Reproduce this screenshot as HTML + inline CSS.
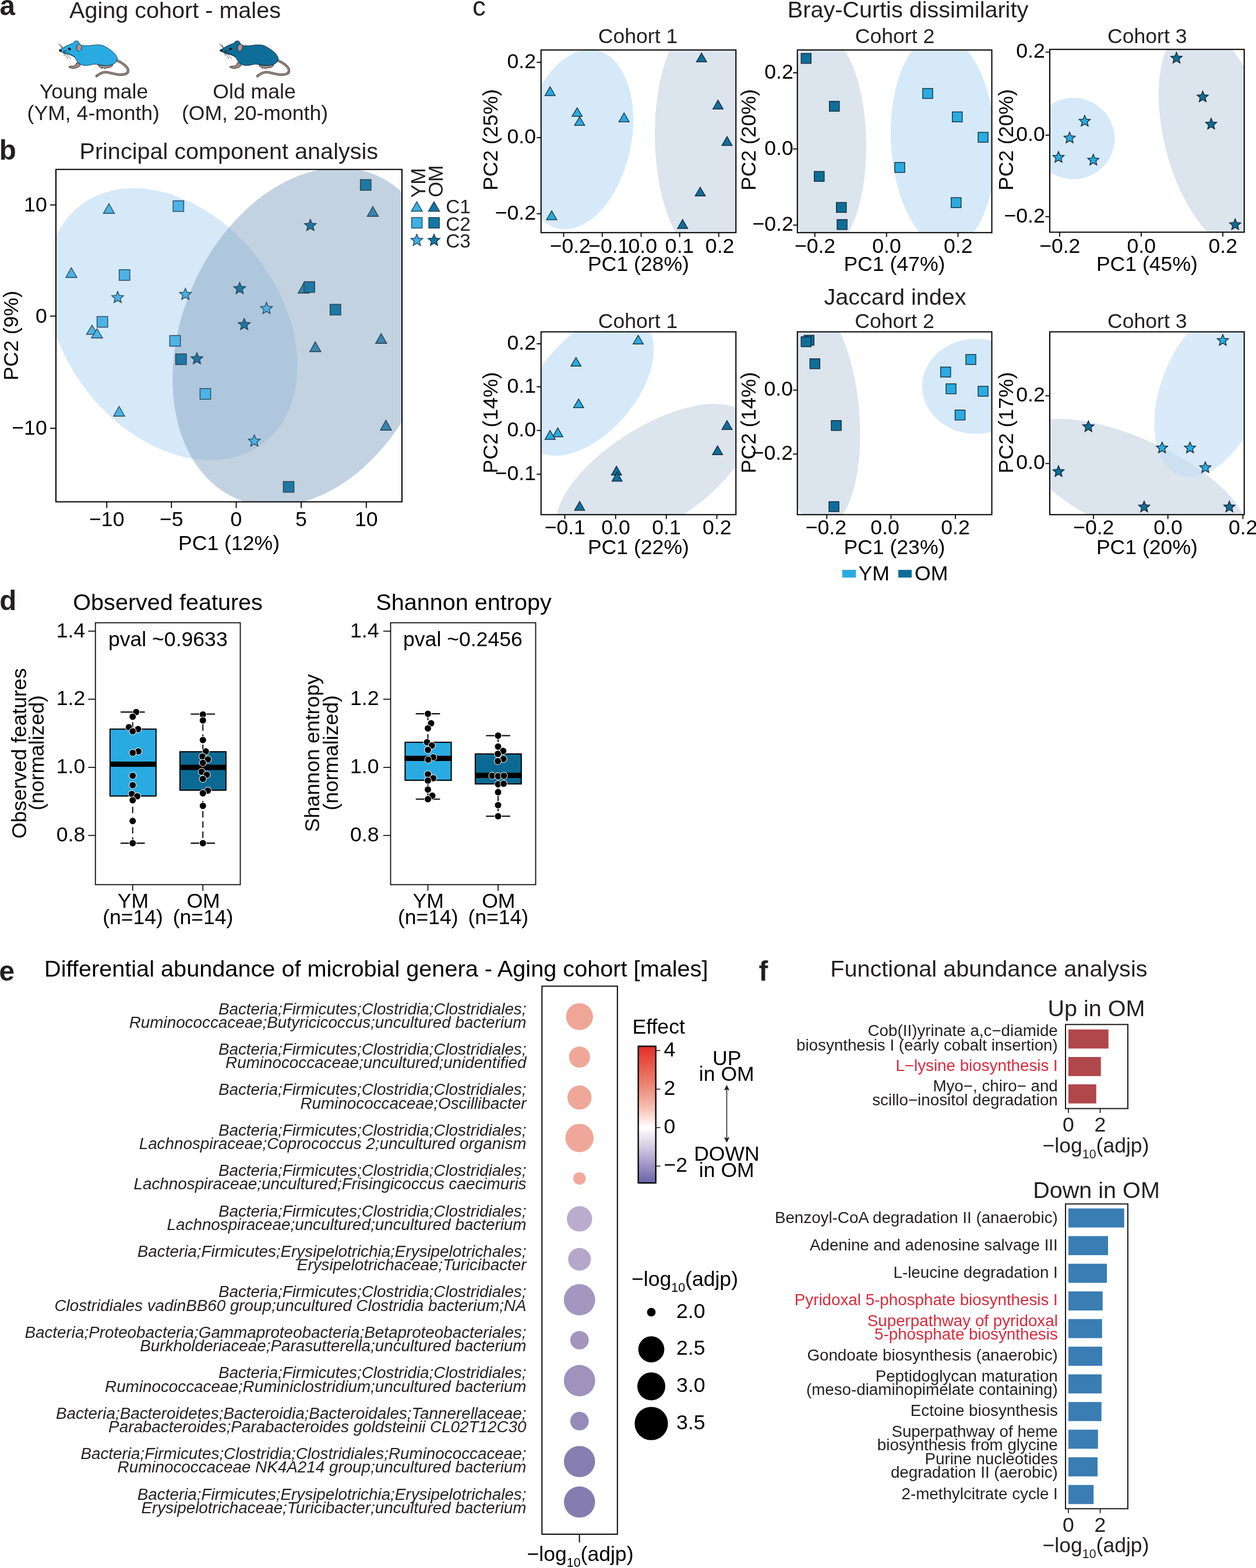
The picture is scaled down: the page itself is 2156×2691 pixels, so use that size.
<!DOCTYPE html>
<html lang="en"><head><meta charset="utf-8"><title>Figure</title>
<style>html,body{margin:0;padding:0;background:#fff;overflow:hidden}svg{display:block}text{font-family:'Liberation Sans', sans-serif;white-space:pre}</style>
</head><body>
<svg width="2156" height="2691" viewBox="0 0 2156 2691">
<defs><clipPath id="c1"><rect x="96" y="290.75" width="594" height="570.5"/></clipPath><clipPath id="c2"><rect x="928.75" y="85.75" width="334.5" height="313.5"/></clipPath><clipPath id="c3"><rect x="1368.75" y="85.75" width="333.75" height="313.5"/></clipPath><clipPath id="c4"><rect x="1802" y="84.75" width="333.75" height="313.75"/></clipPath><clipPath id="c5"><rect x="928.75" y="569.5" width="334.5" height="313.75"/></clipPath><clipPath id="c6"><rect x="1368.75" y="569.5" width="333.75" height="313.75"/></clipPath><clipPath id="c7"><rect x="1802" y="569.5" width="333.75" height="313.75"/></clipPath><linearGradient id="eff" x1="0" y1="0" x2="0" y2="1"><stop offset="0" stop-color="#E52D27"/><stop offset="0.1" stop-color="#E84C3E"/><stop offset="0.2" stop-color="#EA6C59"/><stop offset="0.3" stop-color="#EC8B77"/><stop offset="0.45" stop-color="#F5C0B4"/><stop offset="0.594" stop-color="#FFFFFF"/><stop offset="0.75" stop-color="#CFC6DF"/><stop offset="0.88" stop-color="#9A91C2"/><stop offset="1" stop-color="#6A62A8"/></linearGradient></defs>
<text x="-0.6" y="26.4" font-size="47.5" font-weight="bold" fill="#231F20">a</text>
<text x="119" y="31.2" font-size="39.6" fill="#231F20">Aging cohort - males</text>
<g transform="translate(90 60) scale(0.08333)" stroke-linejoin="round" stroke-linecap="round">
<path d="M1320 520C1440 570 1540 650 1558 720C1570 790 1500 818 1400 818C1280 815 1200 775 1100 765C1010 765 960 810 908 848" fill="none" stroke="#3a322f" stroke-width="48"/>
<path d="M1320 520C1440 570 1540 650 1558 720C1570 790 1500 818 1400 818C1280 815 1200 775 1100 765C1010 765 960 810 908 848" fill="none" stroke="#9C8A83" stroke-width="28"/>
<path d="M940 622L960 650L1000 668L1010 695L1040 672L1075 702L1100 680L1180 672L1235 640L1240 612L1100 630Z" fill="#9C8A83" stroke="#2e2826" stroke-width="11"/>
<path d="M505 565L565 600L578 625L545 658L485 680L415 692L345 670L338 652L375 640L440 640L475 615Z" fill="#9C8A83" stroke="#2e2826" stroke-width="11"/>
<path d="M143 318C190 280 260 235 330 207C370 190 410 175 432 165C440 140 465 122 495 122C525 122 545 135 542 160C560 180 585 200 600 215C640 222 680 226 720 224C780 220 820 210 870 207C930 203 990 203 1030 215C1080 232 1150 275 1210 320C1270 365 1320 420 1335 480C1340 530 1310 565 1280 585C1250 605 1200 622 1150 628C1080 636 1000 618 940 608C890 600 850 598 810 610C770 622 720 630 660 628C610 625 570 600 535 570C505 545 490 510 470 475C455 455 420 430 370 412C320 395 270 388 240 375C200 358 165 340 143 318Z" fill="#29ABE2" stroke="#0e3d55" stroke-width="12"/>
<ellipse cx="550" cy="262" rx="52" ry="74" transform="rotate(14 550 262)" fill="#B8928C" stroke="#0e3d55" stroke-width="10"/>
<path d="M500 200C485 240 490 290 520 325" fill="none" stroke="#0e3d55" stroke-width="7"/>
<circle cx="352" cy="290" r="28" fill="#1a1413"/>
<circle cx="163" cy="320" r="27" fill="#1a1413"/>
<path d="M200 268L122 180M202 266L155 182M208 270L188 215M228 338L318 488M238 334L380 490M250 330L470 452M232 345L245 430M250 322L300 322" fill="none" stroke="#1c1c1c" stroke-width="7.5"/>
</g>
<g transform="translate(366.2 60) scale(0.08333)" stroke-linejoin="round" stroke-linecap="round">
<path d="M1320 520C1440 570 1540 650 1558 720C1570 790 1500 818 1400 818C1280 815 1200 775 1100 765C1010 765 960 810 908 848" fill="none" stroke="#3a322f" stroke-width="48"/>
<path d="M1320 520C1440 570 1540 650 1558 720C1570 790 1500 818 1400 818C1280 815 1200 775 1100 765C1010 765 960 810 908 848" fill="none" stroke="#9C8A83" stroke-width="28"/>
<path d="M940 622L960 650L1000 668L1010 695L1040 672L1075 702L1100 680L1180 672L1235 640L1240 612L1100 630Z" fill="#9C8A83" stroke="#2e2826" stroke-width="11"/>
<path d="M505 565L565 600L578 625L545 658L485 680L415 692L345 670L338 652L375 640L440 640L475 615Z" fill="#9C8A83" stroke="#2e2826" stroke-width="11"/>
<path d="M143 318C190 280 260 235 330 207C370 190 410 175 432 165C440 140 465 122 495 122C525 122 545 135 542 160C560 180 585 200 600 215C640 222 680 226 720 224C780 220 820 210 870 207C930 203 990 203 1030 215C1080 232 1150 275 1210 320C1270 365 1320 420 1335 480C1340 530 1310 565 1280 585C1250 605 1200 622 1150 628C1080 636 1000 618 940 608C890 600 850 598 810 610C770 622 720 630 660 628C610 625 570 600 535 570C505 545 490 510 470 475C455 455 420 430 370 412C320 395 270 388 240 375C200 358 165 340 143 318Z" fill="#0F6E99" stroke="#062c3f" stroke-width="12"/>
<ellipse cx="550" cy="262" rx="52" ry="74" transform="rotate(14 550 262)" fill="#B8928C" stroke="#062c3f" stroke-width="10"/>
<path d="M500 200C485 240 490 290 520 325" fill="none" stroke="#062c3f" stroke-width="7"/>
<circle cx="352" cy="290" r="28" fill="#1a1413"/>
<circle cx="163" cy="320" r="27" fill="#1a1413"/>
<path d="M200 268L122 180M202 266L155 182M208 270L188 215M228 338L318 488M238 334L380 490M250 330L470 452M232 345L245 430M250 322L300 322" fill="none" stroke="#1c1c1c" stroke-width="7.5"/>
</g>
<text x="161" y="169" font-size="35.6" text-anchor="middle" fill="#231F20">Young male</text>
<text x="160.3" y="206.2" font-size="35.6" text-anchor="middle" fill="#231F20">(YM, 4-month)</text>
<text x="436.5" y="169" font-size="35.6" text-anchor="middle" fill="#231F20">Old male</text>
<text x="437.5" y="206.2" font-size="35.6" text-anchor="middle" fill="#231F20">(OM, 20-month)</text>
<text x="-1.2" y="273.5" font-size="47.5" font-weight="bold" fill="#231F20">b</text>
<text x="136.5" y="273.3" font-size="39.6" fill="#231F20">Principal component analysis</text>
<g clip-path="url(#c1)"><ellipse cx="295.4" cy="556.3" rx="257.5" ry="185.8" transform="rotate(52.4 295.4 556.3)" fill="#D6E9F8"/></g>
<g clip-path="url(#c1)"><ellipse cx="526" cy="578.4" rx="302.4" ry="213.9" transform="rotate(-66.8 526 578.4)" fill="#8CA9C4" fill-opacity="0.52"/></g>
<rect x="96" y="290.75" width="594" height="570.5" fill="none" stroke="#000" stroke-width="2"/>
<line x1="86" y1="351.75" x2="96" y2="351.75" stroke="#000" stroke-width="1.8"/>
<text x="80.7" y="363.05" font-size="35.6" text-anchor="end">10</text>
<line x1="86" y1="542.5" x2="96" y2="542.5" stroke="#000" stroke-width="1.8"/>
<text x="80.7" y="553.8" font-size="35.6" text-anchor="end">0</text>
<line x1="86" y1="735" x2="96" y2="735" stroke="#000" stroke-width="1.8"/>
<text x="80.7" y="746.3" font-size="35.6" text-anchor="end">−10</text>
<line x1="183.25" y1="861.25" x2="183.25" y2="871.75" stroke="#000" stroke-width="1.8"/>
<text x="183.25" y="903" font-size="35.6" text-anchor="middle">−10</text>
<line x1="294.25" y1="861.25" x2="294.25" y2="871.75" stroke="#000" stroke-width="1.8"/>
<text x="294.25" y="903" font-size="35.6" text-anchor="middle">−5</text>
<line x1="405.5" y1="861.25" x2="405.5" y2="871.75" stroke="#000" stroke-width="1.8"/>
<text x="405.5" y="903" font-size="35.6" text-anchor="middle">0</text>
<line x1="517" y1="861.25" x2="517" y2="871.75" stroke="#000" stroke-width="1.8"/>
<text x="517" y="903" font-size="35.6" text-anchor="middle">5</text>
<line x1="628.75" y1="861.25" x2="628.75" y2="871.75" stroke="#000" stroke-width="1.8"/>
<text x="628.75" y="903" font-size="35.6" text-anchor="middle">10</text>
<text x="393" y="943.75" font-size="35.6" text-anchor="middle">PC1 (12%)</text>
<text transform="translate(30.8 576) rotate(-90)" font-size="35.6" text-anchor="middle">PC2 (9%)</text>
<path d="M187 349.5L196.5 366.25H177.5Z" fill="#4DB3E6" stroke="#2b4a5e" stroke-width="1.4" stroke-linejoin="miter"/>
<path d="M122.5 459.5L132 476.25H113Z" fill="#4DB3E6" stroke="#2b4a5e" stroke-width="1.4" stroke-linejoin="miter"/>
<path d="M158 558L167.5 573.75H148.5Z" fill="#4DB3E6" stroke="#2b4a5e" stroke-width="1.4" stroke-linejoin="miter"/>
<path d="M166.5 564.25L176 580H157Z" fill="#4DB3E6" stroke="#2b4a5e" stroke-width="1.4" stroke-linejoin="miter"/>
<path d="M204.5 697.5L214 714.25H195Z" fill="#4DB3E6" stroke="#2b4a5e" stroke-width="1.4" stroke-linejoin="miter"/>
<rect x="297.1" y="344.6" width="18.3" height="18.3" fill="#4DB3E6" stroke="#2b4a5e" stroke-width="1.4"/>
<rect x="204.6" y="462.85" width="18.3" height="18.3" fill="#4DB3E6" stroke="#2b4a5e" stroke-width="1.4"/>
<rect x="166.6" y="543.25" width="18.3" height="18.3" fill="#4DB3E6" stroke="#2b4a5e" stroke-width="1.4"/>
<rect x="291.35" y="575.85" width="18.3" height="18.3" fill="#4DB3E6" stroke="#2b4a5e" stroke-width="1.4"/>
<rect x="343.35" y="666.85" width="18.3" height="18.3" fill="#4DB3E6" stroke="#2b4a5e" stroke-width="1.4"/>
<path d="M202 500.2L204.8 506.94L212.08 507.52L206.54 512.27L208.23 519.38L202 515.57L195.77 519.38L197.46 512.27L191.92 507.52L199.2 506.94Z" fill="#4DB3E6" stroke="#2b4a5e" stroke-width="1.4" stroke-linejoin="miter"/>
<path d="M318.25 494.7L321.05 501.44L328.33 502.02L322.79 506.77L324.48 513.88L318.25 510.07L312.02 513.88L313.71 506.77L308.17 502.02L315.45 501.44Z" fill="#4DB3E6" stroke="#2b4a5e" stroke-width="1.4" stroke-linejoin="miter"/>
<path d="M457.5 518.95L460.3 525.69L467.58 526.27L462.04 531.02L463.73 538.13L457.5 534.32L451.27 538.13L452.96 531.02L447.42 526.27L454.7 525.69Z" fill="#4DB3E6" stroke="#2b4a5e" stroke-width="1.4" stroke-linejoin="miter"/>
<path d="M436.5 746.45L439.3 753.19L446.58 753.77L441.04 758.52L442.73 765.63L436.5 761.82L430.27 765.63L431.96 758.52L426.42 753.77L433.7 753.19Z" fill="#4DB3E6" stroke="#2b4a5e" stroke-width="1.4" stroke-linejoin="miter"/>
<path d="M640 354.5L649.5 371.25H630.5Z" fill="#3A84AD" stroke="#26404f" stroke-width="1.4" stroke-linejoin="miter"/>
<path d="M521.25 486.25L530.75 503H511.75Z" fill="#3A84AD" stroke="#26404f" stroke-width="1.4" stroke-linejoin="miter"/>
<path d="M541.25 586.75L550.75 603.5H531.75Z" fill="#3A84AD" stroke="#26404f" stroke-width="1.4" stroke-linejoin="miter"/>
<path d="M654.25 572.5L663.75 589.25H644.75Z" fill="#3A84AD" stroke="#26404f" stroke-width="1.4" stroke-linejoin="miter"/>
<path d="M662.5 721.25L672 738.25H653Z" fill="#3A84AD" stroke="#26404f" stroke-width="1.4" stroke-linejoin="miter"/>
<rect x="618.6" y="308.25" width="18.3" height="18.3" fill="#1F78A4" stroke="#26404f" stroke-width="1.4"/>
<rect x="521.85" y="483.45" width="18.3" height="18.3" fill="#1F78A4" stroke="#26404f" stroke-width="1.4"/>
<rect x="566.6" y="522.25" width="18.3" height="18.3" fill="#1F78A4" stroke="#26404f" stroke-width="1.4"/>
<rect x="301.6" y="607.35" width="18.3" height="18.3" fill="#1F78A4" stroke="#26404f" stroke-width="1.4"/>
<rect x="486.35" y="826.45" width="18.3" height="18.3" fill="#1F78A4" stroke="#26404f" stroke-width="1.4"/>
<path d="M532.75 376.45L535.55 383.19L542.83 383.77L537.29 388.52L538.98 395.63L532.75 391.82L526.52 395.63L528.21 388.52L522.67 383.77L529.95 383.19Z" fill="#1F78A4" stroke="#26404f" stroke-width="1.4" stroke-linejoin="miter"/>
<path d="M411.4 484.7L414.2 491.44L421.48 492.02L415.94 496.77L417.63 503.88L411.4 500.07L405.17 503.88L406.86 496.77L401.32 492.02L408.6 491.44Z" fill="#1F78A4" stroke="#26404f" stroke-width="1.4" stroke-linejoin="miter"/>
<path d="M419.25 546.45L422.05 553.19L429.33 553.77L423.79 558.52L425.48 565.63L419.25 561.82L413.02 565.63L414.71 558.52L409.17 553.77L416.45 553.19Z" fill="#1F78A4" stroke="#26404f" stroke-width="1.4" stroke-linejoin="miter"/>
<path d="M338 605.2L340.8 611.94L348.08 612.52L342.54 617.27L344.23 624.38L338 620.57L331.77 624.38L333.46 617.27L327.92 612.52L335.2 611.94Z" fill="#1F78A4" stroke="#26404f" stroke-width="1.4" stroke-linejoin="miter"/>
<text transform="translate(729.8 339.6) rotate(-90)" font-size="34.2" fill="#231F20">YM</text>
<text transform="translate(760 338.6) rotate(-90)" font-size="34.2" fill="#231F20">OM</text>
<path d="M715.5 346.25L725 362.5H706Z" fill="#3DB0E5" stroke="#1d4a63" stroke-width="1.4" stroke-linejoin="miter"/>
<path d="M745 346.25L754.5 362.5H735.5Z" fill="#1477A3" stroke="#123a50" stroke-width="1.4" stroke-linejoin="miter"/>
<rect x="706.6" y="373.4" width="18" height="18" fill="#3DB0E5" stroke="#1d4a63" stroke-width="1.4"/>
<rect x="736.1" y="373.4" width="18" height="18" fill="#1477A3" stroke="#123a50" stroke-width="1.4"/>
<path d="M715.5 402L718.3 408.74L725.58 409.32L720.04 414.07L721.73 421.18L715.5 417.37L709.27 421.18L710.96 414.07L705.42 409.32L712.7 408.74Z" fill="#3DB0E5" stroke="#1d4a63" stroke-width="1.4" stroke-linejoin="miter"/>
<path d="M745 402L747.8 408.74L755.08 409.32L749.54 414.07L751.23 421.18L745 417.37L738.77 421.18L740.46 414.07L734.92 409.32L742.2 408.74Z" fill="#1477A3" stroke="#123a50" stroke-width="1.4" stroke-linejoin="miter"/>
<text x="765.3" y="366.4" font-size="33.3" fill="#231F20">C1</text>
<text x="765.3" y="395.8" font-size="33.3" fill="#231F20">C2</text>
<text x="765.3" y="424.6" font-size="33.3" fill="#231F20">C3</text>
<text x="810.9" y="27.3" font-size="45.5" fill="#231F20">c</text>
<text x="1558.5" y="29.9" font-size="39.6" text-anchor="middle" fill="#231F20">Bray-Curtis dissimilarity</text>
<text x="1536.5" y="522.5" font-size="39.6" text-anchor="middle" fill="#231F20">Jaccard index</text>
<g clip-path="url(#c2)"><ellipse cx="991" cy="239.3" rx="156.5" ry="92.3" transform="rotate(-77.9 991 239.3)" fill="#D6E9F8"/></g>
<g clip-path="url(#c2)"><ellipse cx="1213" cy="236" rx="208.52" ry="88.96" transform="rotate(89.16 1213 236)" fill="#DCE4EE"/></g>
<rect x="928.75" y="85.75" width="334.5" height="313.5" fill="none" stroke="#000" stroke-width="2"/>
<line x1="921.25" y1="107" x2="928.75" y2="107" stroke="#000" stroke-width="1.8"/>
<text x="920" y="116.9" font-size="35.6" text-anchor="end">0.2</text>
<line x1="921.25" y1="236.25" x2="928.75" y2="236.25" stroke="#000" stroke-width="1.8"/>
<text x="920" y="246.15" font-size="35.6" text-anchor="end">0.0</text>
<line x1="921.25" y1="366.75" x2="928.75" y2="366.75" stroke="#000" stroke-width="1.8"/>
<text x="920" y="376.65" font-size="35.6" text-anchor="end">−0.2</text>
<line x1="967.5" y1="399.25" x2="967.5" y2="406.75" stroke="#000" stroke-width="1.8"/>
<text x="978.8" y="434.05" font-size="35.6" text-anchor="middle">−0.2</text>
<line x1="1033.75" y1="399.25" x2="1033.75" y2="406.75" stroke="#000" stroke-width="1.8"/>
<text x="1045.3" y="434.05" font-size="35.6" text-anchor="middle">−0.1</text>
<line x1="1100.5" y1="399.25" x2="1100.5" y2="406.75" stroke="#000" stroke-width="1.8"/>
<text x="1103.3" y="434.05" font-size="35.6" text-anchor="middle">0.0</text>
<line x1="1166.75" y1="399.25" x2="1166.75" y2="406.75" stroke="#000" stroke-width="1.8"/>
<text x="1166.6" y="434.05" font-size="35.6" text-anchor="middle">0.1</text>
<line x1="1233.75" y1="399.25" x2="1233.75" y2="406.75" stroke="#000" stroke-width="1.8"/>
<text x="1235.6" y="434.05" font-size="35.6" text-anchor="middle">0.2</text>
<text x="1095" y="73.75" font-size="35.6" text-anchor="middle" fill="#231F20">Cohort 1</text>
<text x="1095.9" y="465.05" font-size="35.6" text-anchor="middle">PC1 (28%)</text>
<text transform="translate(853.5 240) rotate(-90)" font-size="35.6" text-anchor="middle">PC2 (25%)</text>
<path d="M944.25 148.75L953 164H935.5Z" fill="#29ABE2" stroke="#10202a" stroke-width="1.25" stroke-linejoin="miter"/>
<path d="M990.75 185L999.5 199.5H982Z" fill="#29ABE2" stroke="#10202a" stroke-width="1.25" stroke-linejoin="miter"/>
<path d="M995 200.5L1003.75 215H986.25Z" fill="#29ABE2" stroke="#10202a" stroke-width="1.25" stroke-linejoin="miter"/>
<path d="M1071.25 193.75L1080 209H1062.5Z" fill="#29ABE2" stroke="#10202a" stroke-width="1.25" stroke-linejoin="miter"/>
<path d="M947 361.75L955.75 377H938.25Z" fill="#29ABE2" stroke="#10202a" stroke-width="1.25" stroke-linejoin="miter"/>
<path d="M1204.25 91L1213 106H1195.5Z" fill="#0F6E99" stroke="#10202a" stroke-width="1.25" stroke-linejoin="miter"/>
<path d="M1232.5 171.75L1241.25 187H1223.75Z" fill="#0F6E99" stroke="#10202a" stroke-width="1.25" stroke-linejoin="miter"/>
<path d="M1248 234.25L1256.75 249.5H1239.25Z" fill="#0F6E99" stroke="#10202a" stroke-width="1.25" stroke-linejoin="miter"/>
<path d="M1202 321.25L1210.75 336.25H1193.25Z" fill="#0F6E99" stroke="#10202a" stroke-width="1.25" stroke-linejoin="miter"/>
<path d="M1171.75 376.75L1180.5 392H1163Z" fill="#0F6E99" stroke="#10202a" stroke-width="1.25" stroke-linejoin="miter"/>
<g clip-path="url(#c3)"><ellipse cx="1413.7" cy="245" rx="185.52" ry="73.26" transform="rotate(89.19 1413.7 245)" fill="#DCE4EE"/></g>
<g clip-path="url(#c3)"><ellipse cx="1619" cy="242" rx="183.17" ry="89.66" transform="rotate(87.19 1619 242)" fill="#D6E9F8"/></g>
<rect x="1368.75" y="85.75" width="333.75" height="313.5" fill="none" stroke="#000" stroke-width="2"/>
<line x1="1361.25" y1="124.9" x2="1368.75" y2="124.9" stroke="#000" stroke-width="1.8"/>
<text x="1361.8" y="134.8" font-size="35.6" text-anchor="end">0.2</text>
<line x1="1361.25" y1="255.6" x2="1368.75" y2="255.6" stroke="#000" stroke-width="1.8"/>
<text x="1361.8" y="265.5" font-size="35.6" text-anchor="end">0.0</text>
<line x1="1361.25" y1="386.3" x2="1368.75" y2="386.3" stroke="#000" stroke-width="1.8"/>
<text x="1361.8" y="396.2" font-size="35.6" text-anchor="end">−0.2</text>
<line x1="1398.75" y1="399.25" x2="1398.75" y2="406.75" stroke="#000" stroke-width="1.8"/>
<text x="1399.05" y="434.05" font-size="35.6" text-anchor="middle">−0.2</text>
<line x1="1521.75" y1="399.25" x2="1521.75" y2="406.75" stroke="#000" stroke-width="1.8"/>
<text x="1522.05" y="434.05" font-size="35.6" text-anchor="middle">0.0</text>
<line x1="1644.5" y1="399.25" x2="1644.5" y2="406.75" stroke="#000" stroke-width="1.8"/>
<text x="1644.8" y="434.05" font-size="35.6" text-anchor="middle">0.2</text>
<text x="1536" y="73.75" font-size="35.6" text-anchor="middle" fill="#231F20">Cohort 2</text>
<text x="1535.4" y="465.05" font-size="35.6" text-anchor="middle">PC1 (47%)</text>
<text transform="translate(1297.2 240) rotate(-90)" font-size="35.6" text-anchor="middle">PC2 (20%)</text>
<rect x="1375.2" y="91.7" width="17.1" height="17.1" fill="#0F6E99" stroke="#10202a" stroke-width="1.25"/>
<rect x="1423.7" y="173.85" width="17.1" height="17.1" fill="#0F6E99" stroke="#10202a" stroke-width="1.25"/>
<rect x="1397.7" y="294.2" width="17.1" height="17.1" fill="#0F6E99" stroke="#10202a" stroke-width="1.25"/>
<rect x="1435.7" y="347.45" width="17.1" height="17.1" fill="#0F6E99" stroke="#10202a" stroke-width="1.25"/>
<rect x="1436.95" y="376.85" width="17.1" height="17.1" fill="#0F6E99" stroke="#10202a" stroke-width="1.25"/>
<rect x="1583.95" y="151.85" width="17.1" height="17.1" fill="#29ABE2" stroke="#10202a" stroke-width="1.25"/>
<rect x="1535.95" y="278.85" width="17.1" height="17.1" fill="#29ABE2" stroke="#10202a" stroke-width="1.25"/>
<rect x="1634.7" y="192.05" width="17.1" height="17.1" fill="#29ABE2" stroke="#10202a" stroke-width="1.25"/>
<rect x="1678.95" y="227.05" width="17.1" height="17.1" fill="#29ABE2" stroke="#10202a" stroke-width="1.25"/>
<rect x="1632.7" y="339.2" width="17.1" height="17.1" fill="#29ABE2" stroke="#10202a" stroke-width="1.25"/>
<g clip-path="url(#c4)"><ellipse cx="1842.5" cy="237.75" rx="70.75" ry="69.75" transform="rotate(0 1842.5 237.75)" fill="#D6E9F8"/></g>
<g clip-path="url(#c4)"><ellipse cx="2089" cy="236.1" rx="196.3" ry="90.06" transform="rotate(-104.6 2089 236.1)" fill="#DCE4EE"/></g>
<rect x="1802" y="84.75" width="333.75" height="313.75" fill="none" stroke="#000" stroke-width="2"/>
<line x1="1794.5" y1="89.5" x2="1802" y2="89.5" stroke="#000" stroke-width="1.8"/>
<text x="1793.8" y="99.4" font-size="35.6" text-anchor="end">0.2</text>
<line x1="1794.5" y1="232" x2="1802" y2="232" stroke="#000" stroke-width="1.8"/>
<text x="1793.8" y="241.9" font-size="35.6" text-anchor="end">0.0</text>
<line x1="1794.5" y1="371.75" x2="1802" y2="371.75" stroke="#000" stroke-width="1.8"/>
<text x="1793.8" y="381.65" font-size="35.6" text-anchor="end">−0.2</text>
<line x1="1819" y1="398.5" x2="1819" y2="406" stroke="#000" stroke-width="1.8"/>
<text x="1819.3" y="434.05" font-size="35.6" text-anchor="middle">−0.2</text>
<line x1="1959" y1="398.5" x2="1959" y2="406" stroke="#000" stroke-width="1.8"/>
<text x="1959.3" y="434.05" font-size="35.6" text-anchor="middle">0.0</text>
<line x1="2099" y1="398.5" x2="2099" y2="406" stroke="#000" stroke-width="1.8"/>
<text x="2099.3" y="434.05" font-size="35.6" text-anchor="middle">0.2</text>
<text x="1969.3" y="73.75" font-size="35.6" text-anchor="middle" fill="#231F20">Cohort 3</text>
<text x="1968.9" y="465.05" font-size="35.6" text-anchor="middle">PC1 (45%)</text>
<text transform="translate(1738.5 240) rotate(-90)" font-size="35.6" text-anchor="middle">PC2 (20%)</text>
<path d="M1862 197.9L1864.7 204.39L1871.7 204.95L1866.37 209.52L1868 216.35L1862 212.69L1856 216.35L1857.63 209.52L1852.3 204.95L1859.3 204.39Z" fill="#29ABE2" stroke="#10202a" stroke-width="1.25" stroke-linejoin="miter"/>
<path d="M1836 226.65L1838.7 233.14L1845.7 233.7L1840.37 238.27L1842 245.1L1836 241.44L1830 245.1L1831.63 238.27L1826.3 233.7L1833.3 233.14Z" fill="#29ABE2" stroke="#10202a" stroke-width="1.25" stroke-linejoin="miter"/>
<path d="M1817 259.9L1819.7 266.39L1826.7 266.95L1821.37 271.52L1823 278.35L1817 274.69L1811 278.35L1812.63 271.52L1807.3 266.95L1814.3 266.39Z" fill="#29ABE2" stroke="#10202a" stroke-width="1.25" stroke-linejoin="miter"/>
<path d="M1876.75 264.65L1879.45 271.14L1886.45 271.7L1881.12 276.27L1882.75 283.1L1876.75 279.44L1870.75 283.1L1872.38 276.27L1867.05 271.7L1874.05 271.14Z" fill="#29ABE2" stroke="#10202a" stroke-width="1.25" stroke-linejoin="miter"/>
<path d="M2019.5 89.65L2022.2 96.14L2029.2 96.7L2023.87 101.27L2025.5 108.1L2019.5 104.44L2013.5 108.1L2015.13 101.27L2009.8 96.7L2016.8 96.14Z" fill="#0F6E99" stroke="#10202a" stroke-width="1.25" stroke-linejoin="miter"/>
<path d="M2064.5 156.15L2067.2 162.64L2074.2 163.2L2068.87 167.77L2070.5 174.6L2064.5 170.94L2058.5 174.6L2060.13 167.77L2054.8 163.2L2061.8 162.64Z" fill="#0F6E99" stroke="#10202a" stroke-width="1.25" stroke-linejoin="miter"/>
<path d="M2079 202.9L2081.7 209.39L2088.7 209.95L2083.37 214.52L2085 221.35L2079 217.69L2073 221.35L2074.63 214.52L2069.3 209.95L2076.3 209.39Z" fill="#0F6E99" stroke="#10202a" stroke-width="1.25" stroke-linejoin="miter"/>
<path d="M2120.25 375.4L2122.95 381.89L2129.95 382.45L2124.62 387.02L2126.25 393.85L2120.25 390.19L2114.25 393.85L2115.88 387.02L2110.55 382.45L2117.55 381.89Z" fill="#0F6E99" stroke="#10202a" stroke-width="1.25" stroke-linejoin="miter"/>
<g clip-path="url(#c5)"><ellipse cx="1009.6" cy="660.57" rx="143.77" ry="82.73" transform="rotate(-49.4 1009.6 660.57)" fill="#D6E9F8"/></g>
<g clip-path="url(#c5)"><ellipse cx="1120.86" cy="817.14" rx="190.14" ry="84.03" transform="rotate(147.61 1120.86 817.14)" fill="#DCE4EE"/></g>
<rect x="928.75" y="569.5" width="334.5" height="313.75" fill="none" stroke="#000" stroke-width="2"/>
<line x1="921.25" y1="590" x2="928.75" y2="590" stroke="#000" stroke-width="1.8"/>
<text x="920" y="599.9" font-size="35.6" text-anchor="end">0.2</text>
<line x1="921.25" y1="663.75" x2="928.75" y2="663.75" stroke="#000" stroke-width="1.8"/>
<text x="920" y="673.65" font-size="35.6" text-anchor="end">0.1</text>
<line x1="921.25" y1="738.75" x2="928.75" y2="738.75" stroke="#000" stroke-width="1.8"/>
<text x="920" y="748.65" font-size="35.6" text-anchor="end">0.0</text>
<line x1="921.25" y1="813.75" x2="928.75" y2="813.75" stroke="#000" stroke-width="1.8"/>
<text x="920" y="823.65" font-size="35.6" text-anchor="end">−0.1</text>
<line x1="969.5" y1="883.25" x2="969.5" y2="890.75" stroke="#000" stroke-width="1.8"/>
<text x="969.8" y="917.05" font-size="35.6" text-anchor="middle">−0.1</text>
<line x1="1056.75" y1="883.25" x2="1056.75" y2="890.75" stroke="#000" stroke-width="1.8"/>
<text x="1057.05" y="917.05" font-size="35.6" text-anchor="middle">0.0</text>
<line x1="1143.75" y1="883.25" x2="1143.75" y2="890.75" stroke="#000" stroke-width="1.8"/>
<text x="1144.05" y="917.05" font-size="35.6" text-anchor="middle">0.1</text>
<line x1="1230.5" y1="883.25" x2="1230.5" y2="890.75" stroke="#000" stroke-width="1.8"/>
<text x="1230.8" y="917.05" font-size="35.6" text-anchor="middle">0.2</text>
<text x="1095" y="563" font-size="35.6" text-anchor="middle" fill="#231F20">Cohort 1</text>
<text x="1095.9" y="950.8" font-size="35.6" text-anchor="middle">PC1 (22%)</text>
<text transform="translate(853.5 725.5) rotate(-90)" font-size="35.6" text-anchor="middle">PC2 (14%)</text>
<path d="M1095.5 575.5L1104.25 590.25H1086.75Z" fill="#29ABE2" stroke="#10202a" stroke-width="1.25" stroke-linejoin="miter"/>
<path d="M988.75 613.5L997.5 628.25H980Z" fill="#29ABE2" stroke="#10202a" stroke-width="1.25" stroke-linejoin="miter"/>
<path d="M993.25 684.75L1002 699.5H984.5Z" fill="#29ABE2" stroke="#10202a" stroke-width="1.25" stroke-linejoin="miter"/>
<path d="M957.5 734.25L966.25 749.5H948.75Z" fill="#29ABE2" stroke="#10202a" stroke-width="1.25" stroke-linejoin="miter"/>
<path d="M944.25 738.75L953 754H935.5Z" fill="#29ABE2" stroke="#10202a" stroke-width="1.25" stroke-linejoin="miter"/>
<path d="M1058.25 800L1067 815.25H1049.5Z" fill="#0F6E99" stroke="#10202a" stroke-width="1.25" stroke-linejoin="miter"/>
<path d="M1059.25 810.5L1068 825.75H1050.5Z" fill="#0F6E99" stroke="#10202a" stroke-width="1.25" stroke-linejoin="miter"/>
<path d="M995 860.5L1003.75 875.75H986.25Z" fill="#0F6E99" stroke="#10202a" stroke-width="1.25" stroke-linejoin="miter"/>
<path d="M1248 721.75L1256.75 737H1239.25Z" fill="#0F6E99" stroke="#10202a" stroke-width="1.25" stroke-linejoin="miter"/>
<path d="M1231.75 765L1240.5 780.25H1223Z" fill="#0F6E99" stroke="#10202a" stroke-width="1.25" stroke-linejoin="miter"/>
<g clip-path="url(#c6)"><ellipse cx="1399.4" cy="710" rx="194.9" ry="75.6" transform="rotate(-94.9 1399.4 710)" fill="#DCE4EE"/></g>
<g clip-path="url(#c6)"><ellipse cx="1675" cy="663" rx="92" ry="81.6" transform="rotate(0 1675 663)" fill="#D6E9F8"/></g>
<rect x="1368.75" y="569.5" width="333.75" height="313.75" fill="none" stroke="#000" stroke-width="2"/>
<line x1="1361.25" y1="669.5" x2="1368.75" y2="669.5" stroke="#000" stroke-width="1.8"/>
<text x="1361" y="679.4" font-size="35.6" text-anchor="end">0.0</text>
<line x1="1361.25" y1="779.25" x2="1368.75" y2="779.25" stroke="#000" stroke-width="1.8"/>
<text x="1361" y="789.15" font-size="35.6" text-anchor="end">−0.2</text>
<line x1="1419.25" y1="883.25" x2="1419.25" y2="890.75" stroke="#000" stroke-width="1.8"/>
<text x="1417.9" y="917.05" font-size="35.6" text-anchor="middle">−0.2</text>
<line x1="1529.5" y1="883.25" x2="1529.5" y2="890.75" stroke="#000" stroke-width="1.8"/>
<text x="1519.1" y="917.05" font-size="35.6" text-anchor="middle">0.0</text>
<line x1="1640" y1="883.25" x2="1640" y2="890.75" stroke="#000" stroke-width="1.8"/>
<text x="1640" y="917.05" font-size="35.6" text-anchor="middle">0.2</text>
<text x="1535.5" y="563" font-size="35.6" text-anchor="middle" fill="#231F20">Cohort 2</text>
<text x="1535.4" y="950.8" font-size="35.6" text-anchor="middle">PC1 (23%)</text>
<text transform="translate(1297.2 725.5) rotate(-90)" font-size="35.6" text-anchor="middle">PC2 (14%)</text>
<rect x="1380.2" y="575.45" width="17.1" height="17.1" fill="#0F6E99" stroke="#10202a" stroke-width="1.25"/>
<rect x="1375.2" y="577.95" width="17.1" height="17.1" fill="#0F6E99" stroke="#10202a" stroke-width="1.25"/>
<rect x="1390.2" y="615.7" width="17.1" height="17.1" fill="#0F6E99" stroke="#10202a" stroke-width="1.25"/>
<rect x="1426.95" y="721.7" width="17.1" height="17.1" fill="#0F6E99" stroke="#10202a" stroke-width="1.25"/>
<rect x="1422.95" y="860.95" width="17.1" height="17.1" fill="#0F6E99" stroke="#10202a" stroke-width="1.25"/>
<rect x="1657.95" y="608.45" width="17.1" height="17.1" fill="#29ABE2" stroke="#10202a" stroke-width="1.25"/>
<rect x="1614.7" y="629.95" width="17.1" height="17.1" fill="#29ABE2" stroke="#10202a" stroke-width="1.25"/>
<rect x="1623.95" y="658.7" width="17.1" height="17.1" fill="#29ABE2" stroke="#10202a" stroke-width="1.25"/>
<rect x="1678.95" y="662.95" width="17.1" height="17.1" fill="#29ABE2" stroke="#10202a" stroke-width="1.25"/>
<rect x="1639.45" y="703.7" width="17.1" height="17.1" fill="#29ABE2" stroke="#10202a" stroke-width="1.25"/>
<g clip-path="url(#c7)"><ellipse cx="1944.68" cy="833.24" rx="211.1" ry="80.63" transform="rotate(-155.45 1944.68 833.24)" fill="#DCE4EE"/></g>
<g clip-path="url(#c7)"><ellipse cx="2079.2" cy="672.2" rx="153.4" ry="86.6" transform="rotate(-68.8 2079.2 672.2)" fill="#C4DDF3" fill-opacity="0.62"/></g>
<rect x="1802" y="569.5" width="333.75" height="313.75" fill="none" stroke="#000" stroke-width="2"/>
<line x1="1794.5" y1="679.25" x2="1802" y2="679.25" stroke="#000" stroke-width="1.8"/>
<text x="1793.8" y="689.15" font-size="35.6" text-anchor="end">0.2</text>
<line x1="1794.5" y1="795.5" x2="1802" y2="795.5" stroke="#000" stroke-width="1.8"/>
<text x="1793.8" y="805.4" font-size="35.6" text-anchor="end">0.0</text>
<line x1="1877" y1="883.25" x2="1877" y2="890.75" stroke="#000" stroke-width="1.8"/>
<text x="1877.3" y="917.05" font-size="35.6" text-anchor="middle">−0.2</text>
<line x1="2004.75" y1="883.25" x2="2004.75" y2="890.75" stroke="#000" stroke-width="1.8"/>
<text x="2005.05" y="917.05" font-size="35.6" text-anchor="middle">0.0</text>
<line x1="2133.5" y1="883.25" x2="2133.5" y2="890.75" stroke="#000" stroke-width="1.8"/>
<text x="2133.8" y="917.05" font-size="35.6" text-anchor="middle">0.2</text>
<text x="1969.3" y="563" font-size="35.6" text-anchor="middle" fill="#231F20">Cohort 3</text>
<text x="1968.9" y="950.8" font-size="35.6" text-anchor="middle">PC1 (20%)</text>
<text transform="translate(1738.5 725.5) rotate(-90)" font-size="35.6" text-anchor="middle">PC2 (17%)</text>
<path d="M1868.25 722.15L1870.95 728.64L1877.95 729.2L1872.62 733.77L1874.25 740.6L1868.25 736.94L1862.25 740.6L1863.88 733.77L1858.55 729.2L1865.55 728.64Z" fill="#0F6E99" stroke="#10202a" stroke-width="1.25" stroke-linejoin="miter"/>
<path d="M1817 799.15L1819.7 805.64L1826.7 806.2L1821.37 810.77L1823 817.6L1817 813.94L1811 817.6L1812.63 810.77L1807.3 806.2L1814.3 805.64Z" fill="#0F6E99" stroke="#10202a" stroke-width="1.25" stroke-linejoin="miter"/>
<path d="M1964 859.9L1966.7 866.39L1973.7 866.95L1968.37 871.52L1970 878.35L1964 874.69L1958 878.35L1959.63 871.52L1954.3 866.95L1961.3 866.39Z" fill="#0F6E99" stroke="#10202a" stroke-width="1.25" stroke-linejoin="miter"/>
<path d="M2110.25 859.9L2112.95 866.39L2119.95 866.95L2114.62 871.52L2116.25 878.35L2110.25 874.69L2104.25 878.35L2105.88 871.52L2100.55 866.95L2107.55 866.39Z" fill="#0F6E99" stroke="#10202a" stroke-width="1.25" stroke-linejoin="miter"/>
<path d="M2099 574.15L2101.7 580.64L2108.7 581.2L2103.37 585.77L2105 592.6L2099 588.94L2093 592.6L2094.63 585.77L2089.3 581.2L2096.3 580.64Z" fill="#29ABE2" stroke="#10202a" stroke-width="1.25" stroke-linejoin="miter"/>
<path d="M1994.75 758.65L1997.45 765.14L2004.45 765.7L1999.12 770.27L2000.75 777.1L1994.75 773.44L1988.75 777.1L1990.38 770.27L1985.05 765.7L1992.05 765.14Z" fill="#29ABE2" stroke="#10202a" stroke-width="1.25" stroke-linejoin="miter"/>
<path d="M2042.75 758.65L2045.45 765.14L2052.45 765.7L2047.12 770.27L2048.75 777.1L2042.75 773.44L2036.75 777.1L2038.38 770.27L2033.05 765.7L2040.05 765.14Z" fill="#29ABE2" stroke="#10202a" stroke-width="1.25" stroke-linejoin="miter"/>
<path d="M2069 792.4L2071.7 798.89L2078.7 799.45L2073.37 804.02L2075 810.85L2069 807.19L2063 810.85L2064.63 804.02L2059.3 799.45L2066.3 798.89Z" fill="#29ABE2" stroke="#10202a" stroke-width="1.25" stroke-linejoin="miter"/>
<rect x="1445.75" y="978" width="23.5" height="13.25" fill="#29ABE2"/>
<text x="1473.5" y="996.25" font-size="35.6">YM</text>
<rect x="1542" y="978" width="23" height="13.25" fill="#0F6E99"/>
<text x="1570" y="996.25" font-size="35.6">OM</text>
<text x="-0.7" y="1046.6" font-size="47.5" font-weight="bold" fill="#231F20">d</text>
<text x="288.1" y="1047" font-size="39.6" text-anchor="middle">Observed features</text>
<rect x="163.75" y="1068.75" width="248.75" height="449.5" fill="none" stroke="#111" stroke-width="1.8"/>
<line x1="151.25" y1="1083.25" x2="163.75" y2="1083.25" stroke="#000" stroke-width="1.6"/>
<text x="146.3" y="1093.55" font-size="35.6" text-anchor="end">1.4</text>
<line x1="151.25" y1="1200" x2="163.75" y2="1200" stroke="#000" stroke-width="1.6"/>
<text x="146.3" y="1210.3" font-size="35.6" text-anchor="end">1.2</text>
<line x1="151.25" y1="1317" x2="163.75" y2="1317" stroke="#000" stroke-width="1.6"/>
<text x="146.3" y="1327.3" font-size="35.6" text-anchor="end">1.0</text>
<line x1="151.25" y1="1433.75" x2="163.75" y2="1433.75" stroke="#000" stroke-width="1.6"/>
<text x="146.3" y="1444.05" font-size="35.6" text-anchor="end">0.8</text>
<text x="288.3" y="1109.25" font-size="35.6" text-anchor="middle">pval ~0.9633</text>
<text transform="translate(44.5 1293) rotate(-90)" font-size="35.6" text-anchor="middle">Observed features</text>
<text transform="translate(75 1292) rotate(-90)" font-size="35.6" text-anchor="middle">(normalized)</text>
<line x1="227.75" y1="1222" x2="227.75" y2="1250.4" stroke="#000" stroke-width="1.9" stroke-dasharray="11 6.5"/>
<line x1="227.75" y1="1367" x2="227.75" y2="1447" stroke="#000" stroke-width="1.9" stroke-dasharray="11 6.5"/>
<line x1="206.95" y1="1222" x2="248.55" y2="1222" stroke="#000" stroke-width="1.9"/>
<line x1="206.95" y1="1447" x2="248.55" y2="1447" stroke="#000" stroke-width="1.9"/>
<rect x="188.9" y="1251.3" width="78.95" height="114.8" fill="#29ABE2" stroke="#000" stroke-width="2"/>
<line x1="188" y1="1311.5" x2="268.75" y2="1311.5" stroke="#000" stroke-width="9"/>
<line x1="348.25" y1="1225.5" x2="348.25" y2="1289.25" stroke="#000" stroke-width="1.9" stroke-dasharray="11 6.5"/>
<line x1="348.25" y1="1357" x2="348.25" y2="1447" stroke="#000" stroke-width="1.9" stroke-dasharray="11 6.5"/>
<line x1="327.45" y1="1225.5" x2="369.05" y2="1225.5" stroke="#000" stroke-width="1.9"/>
<line x1="327.45" y1="1447" x2="369.05" y2="1447" stroke="#000" stroke-width="1.9"/>
<rect x="308.9" y="1290.15" width="78.95" height="65.95" fill="#0B6A94" stroke="#000" stroke-width="2"/>
<line x1="308" y1="1317" x2="388.75" y2="1317" stroke="#000" stroke-width="9"/>
<circle cx="233.75" cy="1222" r="6.5" fill="#fff"/>
<circle cx="233.75" cy="1222" r="5.5" fill="#000"/>
<circle cx="227.75" cy="1230" r="6.5" fill="#fff"/>
<circle cx="227.75" cy="1230" r="5.5" fill="#000"/>
<circle cx="221.25" cy="1248" r="6.5" fill="#fff"/>
<circle cx="221.25" cy="1248" r="5.5" fill="#000"/>
<circle cx="237" cy="1251.25" r="6.5" fill="#fff"/>
<circle cx="237" cy="1251.25" r="5.5" fill="#000"/>
<circle cx="227.75" cy="1255" r="6.5" fill="#fff"/>
<circle cx="227.75" cy="1255" r="5.5" fill="#000"/>
<circle cx="237.5" cy="1289.5" r="6.5" fill="#fff"/>
<circle cx="237.5" cy="1289.5" r="5.5" fill="#000"/>
<circle cx="227.75" cy="1292" r="6.5" fill="#fff"/>
<circle cx="227.75" cy="1292" r="5.5" fill="#000"/>
<circle cx="227.75" cy="1331.25" r="6.5" fill="#fff"/>
<circle cx="227.75" cy="1331.25" r="5.5" fill="#000"/>
<circle cx="227.75" cy="1347.5" r="6.5" fill="#fff"/>
<circle cx="227.75" cy="1347.5" r="5.5" fill="#000"/>
<circle cx="226.25" cy="1362.5" r="6.5" fill="#fff"/>
<circle cx="226.25" cy="1362.5" r="5.5" fill="#000"/>
<circle cx="235.5" cy="1366.5" r="6.5" fill="#fff"/>
<circle cx="235.5" cy="1366.5" r="5.5" fill="#000"/>
<circle cx="227.75" cy="1373.25" r="6.5" fill="#fff"/>
<circle cx="227.75" cy="1373.25" r="5.5" fill="#000"/>
<circle cx="227.75" cy="1409" r="6.5" fill="#fff"/>
<circle cx="227.75" cy="1409" r="5.5" fill="#000"/>
<circle cx="227.75" cy="1447" r="6.5" fill="#fff"/>
<circle cx="227.75" cy="1447" r="5.5" fill="#000"/>
<circle cx="348.25" cy="1226.25" r="6.5" fill="#fff"/>
<circle cx="348.25" cy="1226.25" r="5.5" fill="#000"/>
<circle cx="348.25" cy="1236.25" r="6.5" fill="#fff"/>
<circle cx="348.25" cy="1236.25" r="5.5" fill="#000"/>
<circle cx="348.25" cy="1270" r="6.5" fill="#fff"/>
<circle cx="348.25" cy="1270" r="5.5" fill="#000"/>
<circle cx="353.25" cy="1289.5" r="6.5" fill="#fff"/>
<circle cx="353.25" cy="1289.5" r="5.5" fill="#000"/>
<circle cx="347.5" cy="1298.25" r="6.5" fill="#fff"/>
<circle cx="347.5" cy="1298.25" r="5.5" fill="#000"/>
<circle cx="357" cy="1303.25" r="6.5" fill="#fff"/>
<circle cx="357" cy="1303.25" r="5.5" fill="#000"/>
<circle cx="348.25" cy="1309.25" r="6.5" fill="#fff"/>
<circle cx="348.25" cy="1309.25" r="5.5" fill="#000"/>
<circle cx="346.25" cy="1324.5" r="6.5" fill="#fff"/>
<circle cx="346.25" cy="1324.5" r="5.5" fill="#000"/>
<circle cx="355" cy="1329.5" r="6.5" fill="#fff"/>
<circle cx="355" cy="1329.5" r="5.5" fill="#000"/>
<circle cx="348.25" cy="1336.75" r="6.5" fill="#fff"/>
<circle cx="348.25" cy="1336.75" r="5.5" fill="#000"/>
<circle cx="356.75" cy="1356.75" r="6.5" fill="#fff"/>
<circle cx="356.75" cy="1356.75" r="5.5" fill="#000"/>
<circle cx="348.25" cy="1361.25" r="6.5" fill="#fff"/>
<circle cx="348.25" cy="1361.25" r="5.5" fill="#000"/>
<circle cx="348.25" cy="1383" r="6.5" fill="#fff"/>
<circle cx="348.25" cy="1383" r="5.5" fill="#000"/>
<circle cx="348.25" cy="1447" r="6.5" fill="#fff"/>
<circle cx="348.25" cy="1447" r="5.5" fill="#000"/>
<line x1="227.75" y1="1518.25" x2="227.75" y2="1528.75" stroke="#000" stroke-width="1.6"/>
<text x="228.55" y="1558.25" font-size="35.6" text-anchor="middle">YM</text>
<text x="228.05" y="1586.25" font-size="35.6" text-anchor="middle">(n=14)</text>
<line x1="348.25" y1="1518.25" x2="348.25" y2="1528.75" stroke="#000" stroke-width="1.6"/>
<text x="349.05" y="1558.25" font-size="35.6" text-anchor="middle">OM</text>
<text x="348.55" y="1586.25" font-size="35.6" text-anchor="middle">(n=14)</text>
<text x="796.1" y="1047" font-size="39.6" text-anchor="middle">Shannon entropy</text>
<rect x="670.5" y="1068.75" width="249" height="449.5" fill="none" stroke="#111" stroke-width="1.8"/>
<line x1="658" y1="1083.25" x2="670.5" y2="1083.25" stroke="#000" stroke-width="1.6"/>
<text x="650.55" y="1093.55" font-size="35.6" text-anchor="end">1.4</text>
<line x1="658" y1="1200" x2="670.5" y2="1200" stroke="#000" stroke-width="1.6"/>
<text x="650.55" y="1210.3" font-size="35.6" text-anchor="end">1.2</text>
<line x1="658" y1="1317" x2="670.5" y2="1317" stroke="#000" stroke-width="1.6"/>
<text x="650.55" y="1327.3" font-size="35.6" text-anchor="end">1.0</text>
<line x1="658" y1="1433.75" x2="670.5" y2="1433.75" stroke="#000" stroke-width="1.6"/>
<text x="650.55" y="1444.05" font-size="35.6" text-anchor="end">0.8</text>
<text x="794.4" y="1109.25" font-size="35.6" text-anchor="middle">pval ~0.2456</text>
<text transform="translate(547.5 1292.5) rotate(-90)" font-size="35.6" text-anchor="middle">Shannon entropy</text>
<text transform="translate(580 1292) rotate(-90)" font-size="35.6" text-anchor="middle">(normalized)</text>
<line x1="734.5" y1="1225" x2="734.5" y2="1273" stroke="#000" stroke-width="1.9" stroke-dasharray="11 6.5"/>
<line x1="734.5" y1="1340" x2="734.5" y2="1371.5" stroke="#000" stroke-width="1.9" stroke-dasharray="11 6.5"/>
<line x1="713.7" y1="1225" x2="755.3" y2="1225" stroke="#000" stroke-width="1.9"/>
<line x1="713.7" y1="1371.5" x2="755.3" y2="1371.5" stroke="#000" stroke-width="1.9"/>
<rect x="695.4" y="1273.9" width="79.2" height="65.2" fill="#29ABE2" stroke="#000" stroke-width="2"/>
<line x1="694.5" y1="1301.5" x2="775.5" y2="1301.5" stroke="#000" stroke-width="9"/>
<line x1="855" y1="1262.5" x2="855" y2="1293" stroke="#000" stroke-width="1.9" stroke-dasharray="11 6.5"/>
<line x1="855" y1="1346.25" x2="855" y2="1400.75" stroke="#000" stroke-width="1.9" stroke-dasharray="11 6.5"/>
<line x1="834.2" y1="1262.5" x2="875.8" y2="1262.5" stroke="#000" stroke-width="1.9"/>
<line x1="834.2" y1="1400.75" x2="875.8" y2="1400.75" stroke="#000" stroke-width="1.9"/>
<rect x="815.9" y="1293.9" width="78.95" height="51.45" fill="#0B6A94" stroke="#000" stroke-width="2"/>
<line x1="815" y1="1330.75" x2="895.75" y2="1330.75" stroke="#000" stroke-width="9"/>
<circle cx="734.5" cy="1225" r="6.5" fill="#fff"/>
<circle cx="734.5" cy="1225" r="5.5" fill="#000"/>
<circle cx="740" cy="1241.25" r="6.5" fill="#fff"/>
<circle cx="740" cy="1241.25" r="5.5" fill="#000"/>
<circle cx="734.5" cy="1250" r="6.5" fill="#fff"/>
<circle cx="734.5" cy="1250" r="5.5" fill="#000"/>
<circle cx="733" cy="1273.75" r="6.5" fill="#fff"/>
<circle cx="733" cy="1273.75" r="5.5" fill="#000"/>
<circle cx="741.25" cy="1279.5" r="6.5" fill="#fff"/>
<circle cx="741.25" cy="1279.5" r="5.5" fill="#000"/>
<circle cx="734.5" cy="1287" r="6.5" fill="#fff"/>
<circle cx="734.5" cy="1287" r="5.5" fill="#000"/>
<circle cx="743.75" cy="1299.5" r="6.5" fill="#fff"/>
<circle cx="743.75" cy="1299.5" r="5.5" fill="#000"/>
<circle cx="735" cy="1303.75" r="6.5" fill="#fff"/>
<circle cx="735" cy="1303.75" r="5.5" fill="#000"/>
<circle cx="734.5" cy="1328.75" r="6.5" fill="#fff"/>
<circle cx="734.5" cy="1328.75" r="5.5" fill="#000"/>
<circle cx="743.75" cy="1335.5" r="6.5" fill="#fff"/>
<circle cx="743.75" cy="1335.5" r="5.5" fill="#000"/>
<circle cx="734.5" cy="1339.5" r="6.5" fill="#fff"/>
<circle cx="734.5" cy="1339.5" r="5.5" fill="#000"/>
<circle cx="734.5" cy="1355" r="6.5" fill="#fff"/>
<circle cx="734.5" cy="1355" r="5.5" fill="#000"/>
<circle cx="742" cy="1365.5" r="6.5" fill="#fff"/>
<circle cx="742" cy="1365.5" r="5.5" fill="#000"/>
<circle cx="734.5" cy="1371.5" r="6.5" fill="#fff"/>
<circle cx="734.5" cy="1371.5" r="5.5" fill="#000"/>
<circle cx="855" cy="1262.5" r="6.5" fill="#fff"/>
<circle cx="855" cy="1262.5" r="5.5" fill="#000"/>
<circle cx="855" cy="1281.25" r="6.5" fill="#fff"/>
<circle cx="855" cy="1281.25" r="5.5" fill="#000"/>
<circle cx="863.75" cy="1288.75" r="6.5" fill="#fff"/>
<circle cx="863.75" cy="1288.75" r="5.5" fill="#000"/>
<circle cx="854.5" cy="1293.75" r="6.5" fill="#fff"/>
<circle cx="854.5" cy="1293.75" r="5.5" fill="#000"/>
<circle cx="864.25" cy="1302.5" r="6.5" fill="#fff"/>
<circle cx="864.25" cy="1302.5" r="5.5" fill="#000"/>
<circle cx="854.5" cy="1306.25" r="6.5" fill="#fff"/>
<circle cx="854.5" cy="1306.25" r="5.5" fill="#000"/>
<circle cx="845" cy="1331.25" r="6.5" fill="#fff"/>
<circle cx="845" cy="1331.25" r="5.5" fill="#000"/>
<circle cx="855" cy="1332" r="6.5" fill="#fff"/>
<circle cx="855" cy="1332" r="5.5" fill="#000"/>
<circle cx="865" cy="1331.25" r="6.5" fill="#fff"/>
<circle cx="865" cy="1331.25" r="5.5" fill="#000"/>
<circle cx="855" cy="1345.75" r="6.5" fill="#fff"/>
<circle cx="855" cy="1345.75" r="5.5" fill="#000"/>
<circle cx="864.5" cy="1345" r="6.5" fill="#fff"/>
<circle cx="864.5" cy="1345" r="5.5" fill="#000"/>
<circle cx="855" cy="1359.5" r="6.5" fill="#fff"/>
<circle cx="855" cy="1359.5" r="5.5" fill="#000"/>
<circle cx="855" cy="1381.75" r="6.5" fill="#fff"/>
<circle cx="855" cy="1381.75" r="5.5" fill="#000"/>
<circle cx="855" cy="1400.75" r="6.5" fill="#fff"/>
<circle cx="855" cy="1400.75" r="5.5" fill="#000"/>
<line x1="734.5" y1="1518.25" x2="734.5" y2="1528.75" stroke="#000" stroke-width="1.6"/>
<text x="735.3" y="1558.25" font-size="35.6" text-anchor="middle">YM</text>
<text x="734.8" y="1586.25" font-size="35.6" text-anchor="middle">(n=14)</text>
<line x1="855" y1="1518.25" x2="855" y2="1528.75" stroke="#000" stroke-width="1.6"/>
<text x="855.8" y="1558.25" font-size="35.6" text-anchor="middle">OM</text>
<text x="855.3" y="1586.25" font-size="35.6" text-anchor="middle">(n=14)</text>
<text x="-1.5" y="1683" font-size="47.5" font-weight="bold" fill="#231F20">e</text>
<text x="76.1" y="1676.25" font-size="39.68">Differential abundance of microbial genera - Aging cohort [males]</text>
<rect x="930.3" y="1692.5" width="129.5" height="940.5" fill="none" stroke="#000" stroke-width="1.9"/>
<text x="903.5" y="1740.5" font-size="27.82" text-anchor="end" font-style="italic" fill="#231F20">Bacteria;Firmicutes;Clostridia;Clostridiales;</text>
<text x="903.5" y="1763.75" font-size="27.82" text-anchor="end" font-style="italic" fill="#231F20">Ruminococcaceae;Butyricicoccus;uncultured bacterium</text>
<circle cx="994.75" cy="1744.75" r="23.12" fill="#EFA698"/>
<text x="903.5" y="1809.92" font-size="27.82" text-anchor="end" font-style="italic" fill="#231F20">Bacteria;Firmicutes;Clostridia;Clostridiales;</text>
<text x="903.5" y="1833.17" font-size="27.82" text-anchor="end" font-style="italic" fill="#231F20">Ruminococcaceae;uncultured;unidentified</text>
<circle cx="994.75" cy="1814.17" r="18.12" fill="#EFA798"/>
<text x="903.5" y="1879.33" font-size="27.82" text-anchor="end" font-style="italic" fill="#231F20">Bacteria;Firmicutes;Clostridia;Clostridiales;</text>
<text x="903.5" y="1902.58" font-size="27.82" text-anchor="end" font-style="italic" fill="#231F20">Ruminococcaceae;Oscillibacter</text>
<circle cx="994.75" cy="1883.58" r="20.75" fill="#EFA799"/>
<text x="903.5" y="1948.75" font-size="27.82" text-anchor="end" font-style="italic" fill="#231F20">Bacteria;Firmicutes;Clostridia;Clostridiales;</text>
<text x="903.5" y="1972" font-size="27.82" text-anchor="end" font-style="italic" fill="#231F20">Lachnospiraceae;Coprococcus 2;uncultured organism</text>
<circle cx="994.75" cy="1953" r="24.25" fill="#EFA79A"/>
<text x="903.5" y="2018.17" font-size="27.82" text-anchor="end" font-style="italic" fill="#231F20">Bacteria;Firmicutes;Clostridia;Clostridiales;</text>
<text x="903.5" y="2041.42" font-size="27.82" text-anchor="end" font-style="italic" fill="#231F20">Lachnospiraceae;uncultured;Frisingicoccus caecimuris</text>
<circle cx="994.75" cy="2022.42" r="10.75" fill="#F0AA9D"/>
<text x="903.5" y="2087.58" font-size="27.82" text-anchor="end" font-style="italic" fill="#231F20">Bacteria;Firmicutes;Clostridia;Clostridiales;</text>
<text x="903.5" y="2110.83" font-size="27.82" text-anchor="end" font-style="italic" fill="#231F20">Lachnospiraceae;uncultured;uncultured bacterium</text>
<circle cx="994.75" cy="2091.83" r="21.75" fill="#B9ACCD"/>
<text x="903.5" y="2157" font-size="27.82" text-anchor="end" font-style="italic" fill="#231F20">Bacteria;Firmicutes;Erysipelotrichia;Erysipelotrichales;</text>
<text x="903.5" y="2180.25" font-size="27.82" text-anchor="end" font-style="italic" fill="#231F20">Erysipelotrichaceae;Turicibacter</text>
<circle cx="994.75" cy="2161.25" r="19.5" fill="#B4A7CA"/>
<text x="903.5" y="2226.42" font-size="27.82" text-anchor="end" font-style="italic" fill="#231F20">Bacteria;Firmicutes;Clostridia;Clostridiales;</text>
<text x="903.5" y="2249.67" font-size="27.82" text-anchor="end" font-style="italic" fill="#231F20">Clostridiales vadinBB60 group;uncultured Clostridia bacterium;NA</text>
<circle cx="994.75" cy="2230.67" r="26.88" fill="#A497BF"/>
<text x="903.5" y="2295.83" font-size="27.82" text-anchor="end" font-style="italic" fill="#231F20">Bacteria;Proteobacteria;Gammaproteobacteria;Betaproteobacteriales;</text>
<text x="903.5" y="2319.08" font-size="27.82" text-anchor="end" font-style="italic" fill="#231F20">Burkholderiaceae;Parasutterella;uncultured bacterium</text>
<circle cx="994.75" cy="2300.08" r="15.88" fill="#A395BE"/>
<text x="903.5" y="2365.25" font-size="27.82" text-anchor="end" font-style="italic" fill="#231F20">Bacteria;Firmicutes;Clostridia;Clostridiales;</text>
<text x="903.5" y="2388.5" font-size="27.82" text-anchor="end" font-style="italic" fill="#231F20">Ruminococcaceae;Ruminiclostridium;uncultured bacterium</text>
<circle cx="994.75" cy="2369.5" r="26.88" fill="#9F92BC"/>
<text x="903.5" y="2434.67" font-size="27.82" text-anchor="end" font-style="italic" fill="#231F20">Bacteria;Bacteroidetes;Bacteroidia;Bacteroidales;Tannerellaceae;</text>
<text x="903.5" y="2457.92" font-size="27.82" text-anchor="end" font-style="italic" fill="#231F20">Parabacteroides;Parabacteroides goldsteinii CL02T12C30</text>
<circle cx="994.75" cy="2438.92" r="15.88" fill="#968BB8"/>
<text x="903.5" y="2504.08" font-size="27.82" text-anchor="end" font-style="italic" fill="#231F20">Bacteria;Firmicutes;Clostridia;Clostridiales;Ruminococcaceae;</text>
<text x="903.5" y="2527.33" font-size="27.82" text-anchor="end" font-style="italic" fill="#231F20">Ruminococcaceae NK4A214 group;uncultured bacterium</text>
<circle cx="994.75" cy="2508.33" r="26.75" fill="#867DB0"/>
<text x="903.5" y="2573.5" font-size="27.82" text-anchor="end" font-style="italic" fill="#231F20">Bacteria;Firmicutes;Erysipelotrichia;Erysipelotrichales;</text>
<text x="903.5" y="2596.75" font-size="27.82" text-anchor="end" font-style="italic" fill="#231F20">Erysipelotrichaceae;Turicibacter;uncultured bacterium</text>
<circle cx="994.75" cy="2577.75" r="26.75" fill="#857CAF"/>
<line x1="994.6" y1="2633" x2="994.6" y2="2647" stroke="#000" stroke-width="1.9"/>
<text x="904.5" y="2678.9" font-size="35.6">−log<tspan font-size="21.36" dy="9.97">10</tspan><tspan dy="-9.97">(adjp)</tspan></text>
<text x="1085.5" y="1773.75" font-size="35.6">Effect</text>
<rect x="1095.6" y="1795.6" width="30.1" height="234.6" fill="url(#eff)" stroke="#000" stroke-width="2.3"/>
<line x1="1126.75" y1="1803" x2="1133.5" y2="1803" stroke="#1a1a1a" stroke-width="1.5"/>
<text x="1139.5" y="1812.6" font-size="35.6">4</text>
<line x1="1126.75" y1="1869.2" x2="1133.5" y2="1869.2" stroke="#1a1a1a" stroke-width="1.5"/>
<text x="1139.5" y="1878.8" font-size="35.6">2</text>
<line x1="1126.75" y1="1935.2" x2="1133.5" y2="1935.2" stroke="#1a1a1a" stroke-width="1.5"/>
<text x="1139.5" y="1944.8" font-size="35.6">0</text>
<line x1="1126.75" y1="2001.2" x2="1133.5" y2="2001.2" stroke="#1a1a1a" stroke-width="1.5"/>
<text x="1139.5" y="2010.8" font-size="35.6">−2</text>
<text x="1247.8" y="1827.6" font-size="35.6" text-anchor="middle">UP</text>
<text x="1247.3" y="1854.5" font-size="35.6" text-anchor="middle">in OM</text>
<text x="1247.5" y="1991.5" font-size="35.6" text-anchor="middle">DOWN</text>
<text x="1247.3" y="2020" font-size="35.6" text-anchor="middle">in OM</text>
<line x1="1247.5" y1="1866" x2="1247.5" y2="1957" stroke="#231F20" stroke-width="1.5"/>
<path d="M1247.5 1862L1252.3 1871.5L1247.5 1869.5L1242.7 1871.5ZM1247.5 1961L1252.3 1951.5L1247.5 1953.5L1242.7 1951.5Z" fill="#231F20"/>
<text x="1084" y="2206.6" font-size="35.6">−log<tspan font-size="21.36" dy="9.97">10</tspan><tspan dy="-9.97">(adjp)</tspan></text>
<circle cx="1118" cy="2252" r="7.38" fill="#000"/>
<text x="1161" y="2261.6" font-size="35.6">2.0</text>
<circle cx="1118" cy="2315.75" r="22.38" fill="#000"/>
<text x="1161" y="2325.35" font-size="35.6">2.5</text>
<circle cx="1118" cy="2379.25" r="24" fill="#000"/>
<text x="1161" y="2388.85" font-size="35.6">3.0</text>
<circle cx="1118" cy="2443" r="28.62" fill="#000"/>
<text x="1161" y="2452.6" font-size="35.6">3.5</text>
<text x="1302.5" y="1682.5" font-size="47.5" font-weight="bold" fill="#231F20">f</text>
<text x="1425.2" y="1676.25" font-size="39.65" fill="#231F20">Functional abundance analysis</text>
<text x="1882" y="1743.75" font-size="39.6" text-anchor="middle" fill="#231F20">Up in OM</text>
<text x="1882" y="2055.5" font-size="39.6" text-anchor="middle" fill="#231F20">Down in OM</text>
<rect x="1834" y="1766.75" width="68.75" height="32.75" fill="#B0474B"/>
<rect x="1834" y="1814" width="55.75" height="32.75" fill="#B0474B"/>
<rect x="1834" y="1861" width="47.75" height="32.75" fill="#B0474B"/>
<rect x="1829" y="1758.25" width="107" height="144.25" fill="none" stroke="#1c1c1c" stroke-width="2"/>
<line x1="1834" y1="1902.5" x2="1834" y2="1910" stroke="#1c1c1c" stroke-width="1.7"/>
<text x="1834" y="1942" font-size="35.6" text-anchor="middle" fill="#231F20">0</text>
<line x1="1888.5" y1="1902.5" x2="1888.5" y2="1910" stroke="#1c1c1c" stroke-width="1.7"/>
<text x="1888.5" y="1942" font-size="35.6" text-anchor="middle" fill="#231F20">2</text>
<text x="1789.5" y="1978.3" font-size="35.6" fill="#231F20">−log<tspan font-size="21.36" dy="9.97">10</tspan><tspan dy="-9.97">(adjp)</tspan></text>
<text x="1815.8" y="1778.4" font-size="27.75" text-anchor="end" fill="#231F20">Cob(II)yrinate a,c−diamide</text>
<text x="1815.8" y="1803.4" font-size="27.75" text-anchor="end" fill="#231F20">biosynthesis I (early cobalt insertion)</text>
<text x="1815.8" y="1838.4" font-size="27.75" text-anchor="end" fill="#DC2A3C">L−lysine biosynthesis I</text>
<text x="1815.8" y="1872.9" font-size="27.75" text-anchor="end" fill="#231F20">Myo−, chiro− and</text>
<text x="1815.8" y="1897.15" font-size="27.75" text-anchor="end" fill="#231F20">scillo−inositol degradation</text>
<rect x="1834" y="2073.9" width="95.75" height="32.75" fill="#3A7DB3"/>
<rect x="1834" y="2121.36" width="68" height="32.75" fill="#3A7DB3"/>
<rect x="1834" y="2168.82" width="66" height="32.75" fill="#3A7DB3"/>
<rect x="1834" y="2216.28" width="58.75" height="32.75" fill="#3A7DB3"/>
<rect x="1834" y="2263.74" width="57.75" height="32.75" fill="#3A7DB3"/>
<rect x="1834" y="2311.2" width="58" height="32.75" fill="#3A7DB3"/>
<rect x="1834" y="2358.66" width="57" height="32.75" fill="#3A7DB3"/>
<rect x="1834" y="2406.12" width="56.75" height="32.75" fill="#3A7DB3"/>
<rect x="1834" y="2453.58" width="50.75" height="32.75" fill="#3A7DB3"/>
<rect x="1834" y="2501.04" width="50" height="32.75" fill="#3A7DB3"/>
<rect x="1834" y="2548.5" width="43.25" height="32.75" fill="#3A7DB3"/>
<rect x="1829" y="2066.25" width="107" height="523" fill="none" stroke="#1c1c1c" stroke-width="2"/>
<line x1="1834" y1="2589.25" x2="1834" y2="2596.75" stroke="#1c1c1c" stroke-width="1.7"/>
<text x="1834" y="2628.8" font-size="35.6" text-anchor="middle" fill="#231F20">0</text>
<line x1="1888.5" y1="2589.25" x2="1888.5" y2="2596.75" stroke="#1c1c1c" stroke-width="1.7"/>
<text x="1888.5" y="2628.8" font-size="35.6" text-anchor="middle" fill="#231F20">2</text>
<text x="1789.5" y="2664.2" font-size="35.6" fill="#231F20">−log<tspan font-size="21.36" dy="9.97">10</tspan><tspan dy="-9.97">(adjp)</tspan></text>
<text x="1815.8" y="2098.5" font-size="27.75" text-anchor="end" fill="#231F20">Benzoyl-CoA degradation II (anaerobic)</text>
<text x="1815.8" y="2145.5" font-size="27.75" text-anchor="end" fill="#231F20">Adenine and adenosine salvage III</text>
<text x="1815.8" y="2193" font-size="27.75" text-anchor="end" fill="#231F20">L-leucine degradation I</text>
<text x="1815.8" y="2240.25" font-size="27.75" text-anchor="end" fill="#DC2A3C">Pyridoxal 5-phosphate biosynthesis I</text>
<text x="1815.8" y="2276" font-size="27.75" text-anchor="end" fill="#DC2A3C">Superpathway of pyridoxal</text>
<text x="1815.8" y="2299" font-size="27.75" text-anchor="end" fill="#DC2A3C">5-phosphate biosynthesis</text>
<text x="1815.8" y="2335" font-size="27.75" text-anchor="end" fill="#231F20">Gondoate biosynthesis (anaerobic)</text>
<text x="1815.8" y="2371" font-size="27.75" text-anchor="end" fill="#231F20">Peptidoglycan maturation</text>
<text x="1815.8" y="2394" font-size="27.75" text-anchor="end" fill="#231F20">(meso-diaminopimelate containing)</text>
<text x="1815.8" y="2430.25" font-size="27.75" text-anchor="end" fill="#231F20">Ectoine biosynthesis</text>
<text x="1815.8" y="2466" font-size="27.75" text-anchor="end" fill="#231F20">Superpathway of heme</text>
<text x="1815.8" y="2489" font-size="27.75" text-anchor="end" fill="#231F20">biosynthesis from glycine</text>
<text x="1815.8" y="2513" font-size="27.75" text-anchor="end" fill="#231F20">Purine nucleotides</text>
<text x="1815.8" y="2536" font-size="27.75" text-anchor="end" fill="#231F20">degradation II (aerobic)</text>
<text x="1815.8" y="2572.75" font-size="27.75" text-anchor="end" fill="#231F20">2-methylcitrate cycle I</text>
</svg>
</body></html>
